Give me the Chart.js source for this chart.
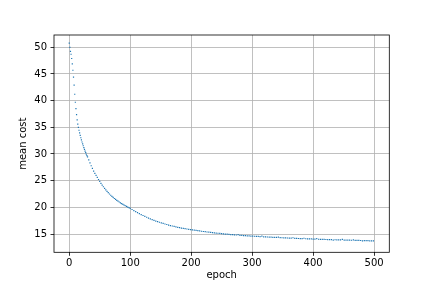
<!DOCTYPE html>
<html>
<head>
<meta charset="utf-8">
<script src="https://cdn.jsdelivr.net/npm/chart.js@4"></script>
<style>
  html, body { margin: 0; padding: 0; background: #fff; }
  #wrap { width: 432px; height: 288px; }
</style>
</head>
<body>
<div id="wrap"><canvas id="chart"></canvas></div>
<script>
// epochs (dense at the start, thinner later on)
const epochs = [
  0, 1, 2, 3, 4, 5, 6, 7, 8, 9,
  10, 11, 12, 13, 14, 15, 16, 17, 18, 19,
  20, 21, 22, 23, 24, 25, 26, 27, 28, 29, 30,
  32, 34, 36, 38, 40, 42, 44, 46, 48, 50,
  52, 54, 56, 58, 60, 62, 64, 66, 68, 70,
  72, 74, 76, 78, 80, 82, 84, 86, 88, 90,
  92, 94, 96, 98,
  100, 103, 106, 109, 112, 115, 118, 121, 124, 127,
  130, 133, 136, 139, 142, 145, 148, 151, 154, 157,
  160, 163, 166, 169, 172, 175, 178, 181, 184, 187,
  190, 193, 196, 199, 202, 205, 208, 211, 214, 217,
  220, 223, 226, 229, 232, 235, 238, 241, 244, 247,
  250, 253, 256, 259, 262, 265, 268, 271, 274, 277,
  280, 283, 286, 289, 292, 295, 298, 301, 304, 307,
  310, 313, 316, 319, 322, 325, 328, 331, 334, 337,
  340, 343, 346, 349, 352, 355, 358, 361, 364, 367,
  370, 373, 376, 379, 382, 385, 388, 391, 394, 397,
  400, 403, 406, 409, 412, 415, 418, 421, 424, 427,
  430, 433, 436, 439, 442, 445, 448, 451, 454, 457,
  460, 463, 466, 469, 472, 475, 478, 481, 484, 487,
  490, 493, 496, 499
];

const meanCost = [
  50.8, 50.0, 49.25, 48.7, 47.9, 46.9, 45.7, 44.4, 42.9, 41.2,
  39.7, 38.5, 37.4, 36.4, 35.6, 35.0, 34.45, 33.95, 33.5, 33.05,
  32.65, 32.25, 31.9, 31.55, 31.2, 30.85, 30.55, 30.25, 29.95, 29.7, 29.45,
  28.9, 28.35, 27.8, 27.3, 26.8, 26.38, 25.98, 25.6, 25.22, 24.85,
  24.5, 24.17, 23.86, 23.56, 23.27, 23.0, 22.74, 22.5, 22.27, 22.05,
  21.85, 21.66, 21.48, 21.31, 21.15, 21.0, 20.85, 20.71, 20.57, 20.43,
  20.3, 20.17, 20.05, 19.93,
  19.8, 19.59, 19.39, 19.19, 19.0, 18.82, 18.64, 18.47, 18.3, 18.14,
  17.98, 17.83, 17.69, 17.56, 17.43, 17.31, 17.2, 17.09, 16.98, 16.88,
  16.78, 16.68, 16.59, 16.5, 16.42, 16.34, 16.26, 16.19, 16.12, 16.06,
  16.0, 15.94, 15.88, 15.82, 15.77, 15.72, 15.67, 15.62, 15.57, 15.52,
  15.47, 15.43, 15.38, 15.34, 15.3, 15.26, 15.22, 15.18, 15.14, 15.1,
  15.06, 15.03, 14.99, 14.96, 14.93, 14.9, 14.87, 14.84, 14.81, 14.9,
  14.76, 14.73, 14.71, 14.68, 14.66, 14.64, 14.62, 14.6, 14.58, 14.56,
  14.54, 14.52, 14.62, 14.48, 14.46, 14.44, 14.42, 14.4, 14.38, 14.37,
  14.35, 14.42, 14.31, 14.3, 14.28, 14.27, 14.25, 14.24, 14.22, 14.3,
  14.19, 14.18, 14.16, 14.15, 14.13, 14.2, 14.11, 14.09, 14.08, 14.07,
  14.05, 14.04, 14.12, 14.02, 14.0, 13.99, 13.98, 13.97, 13.96, 13.95,
  13.94, 13.85, 13.92, 13.91, 13.9, 13.89, 13.98, 13.87, 13.86, 13.85,
  13.84, 13.83, 13.9, 13.81, 13.8, 13.79, 13.78, 13.7, 13.76, 13.75,
  13.74, 13.73, 13.72, 13.71
];

const xTicks = [0, 100, 200, 300, 400, 500];
const yTicks = [15, 20, 25, 30, 35, 40, 45, 50];

const font = { family: 'DejaVu Sans', size: 10 };

// white background + the four black spines around the plot area
const frame = {
  id: 'frame',
  beforeDraw(chart) {
    const ctx = chart.ctx;
    ctx.save();
    ctx.fillStyle = '#fff';
    ctx.fillRect(0, 0, chart.width, chart.height);
    ctx.restore();
  },
  afterDraw(chart) {
    const { ctx, chartArea: a } = chart;
    ctx.save();
    ctx.strokeStyle = '#000';
    ctx.lineWidth = 0.8;
    ctx.strokeRect(a.left, a.top, a.right - a.left, a.bottom - a.top);
    ctx.restore();
  }
};

const points = epochs.map((e, i) => ({ x: e, y: meanCost[i] }));

new Chart(document.getElementById('chart'), {
  type: 'scatter',
  data: {
    datasets: [{
      data: points,
      pointStyle: 'rect',
      pointRadius: 0.85,
      pointHoverRadius: 0.85,
      pointBorderWidth: 0,
      backgroundColor: '#1f77b4',
      borderColor: '#1f77b4'
    }]
  },
  options: {
    responsive: true,
    maintainAspectRatio: false,
    animation: false,
    devicePixelRatio: 1,
    layout: { padding: { top: 35, right: 42.7, left: 0, bottom: 0 } },
    plugins: {
      legend: { display: false },
      tooltip: { enabled: false }
    },
    scales: {
      x: {
        type: 'linear',
        position: 'bottom',
        min: -25,
        max: 525,
        afterFit: (s) => { s.height = 35.7; },
        afterBuildTicks: (s) => { s.ticks = xTicks.map(v => ({ value: v })); },
        grid: { color: '#b0b0b0', lineWidth: 0.8, tickColor: '#000', tickWidth: 0.8, tickLength: 3.5 },
        border: { display: false },
        ticks: { padding: 2, color: '#000', font: font, maxRotation: 0, autoSkip: false },
        title: { display: true, text: 'epoch', color: '#000', font: font, padding: { top: 0, bottom: 6.5 } }
      },
      y: {
        type: 'linear',
        min: 11.57,
        max: 52.31,
        afterFit: (s) => { s.width = 54; },
        afterBuildTicks: (s) => { s.ticks = yTicks.map(v => ({ value: v })); },
        grid: { color: '#b0b0b0', lineWidth: 0.8, tickColor: '#000', tickWidth: 0.8, tickLength: 3.5 },
        border: { display: false },
        ticks: { padding: 3.5, color: '#000', font: font, autoSkip: false },
        title: { display: true, text: 'mean cost', color: '#000', font: font, padding: { top: 17, bottom: 0 } }
      }
    }
  },
  plugins: [frame]
});
</script>
</body>
</html>
